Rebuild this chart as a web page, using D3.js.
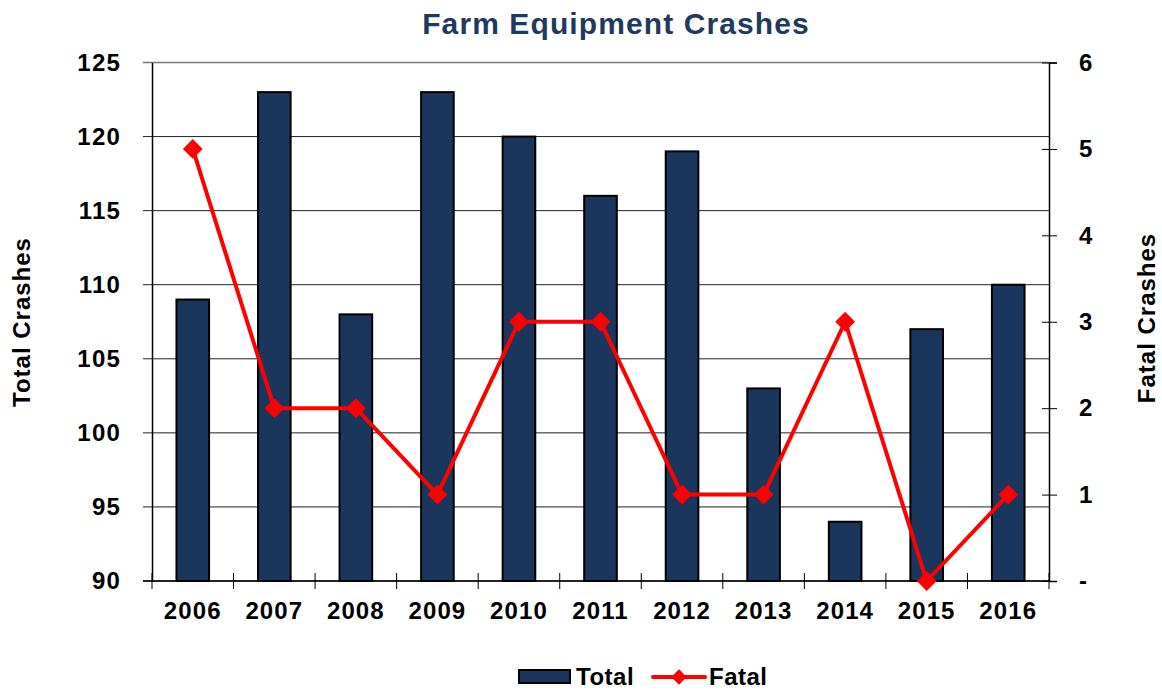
<!DOCTYPE html>
<html>
<head>
<meta charset="utf-8">
<script src="https://cdn.jsdelivr.net/npm/d3@7"></script>
<style>
  html, body { margin: 0; padding: 0; background: #fff; }
  svg { display: block; font-family: "Liberation Sans", Arial, sans-serif; }
</style>
</head>
<body>
<svg id="chart" width="1162" height="690"></svg>
<script>
// Yearly farm equipment crashes: total (bars, left axis) and fatal (line, right axis)
const years = ["2006", "2007", "2008", "2009", "2010", "2011", "2012", "2013", "2014", "2015", "2016"];
const totalCrashes = [109, 123, 108, 123, 120, 116, 119, 103, 94, 107, 110];
const fatalCrashes = [5, 2, 2, 1, 3, 3, 1, 1, 3, 0, 1];
const leftTicks = [90, 95, 100, 105, 110, 115, 120, 125];
const rightTicks = [0, 1, 2, 3, 4, 5, 6];

const barColor = "#1b365d";
const lineColor = "#ff0000";
const FONT = "Liberation Sans, Arial, sans-serif";

const svg = d3.select("#chart");
const plot = { left: 152, right: 1049, top: 62.5, bottom: 581 };

const x = d3.scaleBand().domain(years).range([plot.left, plot.right]).paddingInner(0.6).paddingOuter(0.3);
const xPos = d3.scaleBand().domain(years).range([plot.left, plot.right]);
const yLeft = d3.scaleLinear().domain([90, 125]).range([plot.bottom, plot.top]);
const yRight = d3.scaleLinear().domain([0, 6]).range([plot.bottom, plot.top]);

// Title
svg.append("text")
  .attr("x", 616).attr("y", 34)
  .attr("text-anchor", "middle")
  .attr("font-size", 30).attr("font-weight", "bold")
  .attr("letter-spacing", 1.1)
  .attr("fill", "#1f3a5f")
  .text("Farm Equipment Crashes");

// Horizontal gridlines on the left scale
svg.append("g")
  .selectAll("line")
  .data(leftTicks)
  .join("line")
  .attr("x1", plot.left - 9).attr("x2", plot.right)
  .attr("y1", d => yLeft(d)).attr("y2", d => yLeft(d))
  .attr("stroke", d => d === 125 ? "#777" : "#222")
  .attr("stroke-width", d => d === 125 ? 1.5 : 1);

// Left axis
const gL = svg.append("g").attr("transform", `translate(${plot.left},0)`)
  .call(d3.axisLeft(yLeft).tickValues(leftTicks).tickSize(0).tickPadding(31));
gL.select(".domain").attr("stroke", "#000").attr("stroke-width", 1.5);
gL.selectAll("text").attr("font-size", 24).attr("font-weight", "bold").attr("fill", "#000")
  .attr("letter-spacing", 1.2).attr("font-family", FONT);

// Right axis, with zero shown as a dash
const gR = svg.append("g").attr("transform", `translate(${plot.right},0)`)
  .call(d3.axisRight(yRight).tickValues(rightTicks).tickSize(8).tickPadding(22)
    .tickFormat(d => d === 0 ? "-" : d));
gR.select(".domain").attr("stroke", "#000").attr("stroke-width", 1.5);
gR.selectAll(".tick line").attr("x1", -7).attr("x2", 8).attr("stroke", "#000");
gR.selectAll("text").attr("font-size", 24).attr("font-weight", "bold").attr("fill", "#000")
  .attr("font-family", FONT);

// Bars
svg.append("g")
  .selectAll("rect")
  .data(years.map((y, i) => ({ year: y, value: totalCrashes[i] })))
  .join("rect")
  .attr("x", d => x(d.year))
  .attr("width", x.bandwidth())
  .attr("y", d => yLeft(d.value))
  .attr("height", d => yLeft(90) - yLeft(d.value))
  .attr("fill", barColor)
  .attr("stroke", "#000")
  .attr("stroke-width", 2);

// Bottom axis with category separators
svg.append("line")
  .attr("x1", plot.left - 9).attr("x2", plot.right)
  .attr("y1", plot.bottom).attr("y2", plot.bottom)
  .attr("stroke", "#000").attr("stroke-width", 1.5);
const sepPositions = years.map(y => xPos(y)).concat([plot.right]);
svg.append("g")
  .selectAll("line")
  .data(sepPositions)
  .join("line")
  .attr("x1", d => d).attr("x2", d => d)
  .attr("y1", plot.bottom - 8).attr("y2", plot.bottom + 8)
  .attr("stroke", "#000").attr("stroke-width", 1);
svg.append("g")
  .selectAll("text")
  .data(years)
  .join("text")
  .attr("x", d => xPos(d) + xPos.bandwidth() / 2)
  .attr("y", 619)
  .attr("text-anchor", "middle")
  .attr("font-size", 24).attr("font-weight", "bold")
  .attr("letter-spacing", 1.1)
  .text(d => d);

// Fatal line and diamond markers
const pts = years.map((y, i) => [xPos(y) + xPos.bandwidth() / 2, yRight(fatalCrashes[i])]);
svg.append("path")
  .attr("d", d3.line()(pts))
  .attr("fill", "none")
  .attr("stroke", lineColor)
  .attr("stroke-width", 4)
  .attr("stroke-linejoin", "round");
const diamond = d3.symbol().type(d3.symbolDiamond2).size(250);
svg.append("g")
  .selectAll("path")
  .data(pts)
  .join("path")
  .attr("transform", d => `translate(${d[0]},${d[1]})`)
  .attr("d", diamond)
  .attr("fill", lineColor);

// Axis titles
svg.append("text")
  .attr("transform", "translate(30,322) rotate(-90)")
  .attr("text-anchor", "middle")
  .attr("font-size", 24).attr("font-weight", "bold")
  .attr("letter-spacing", 1)
  .text("Total Crashes");
svg.append("text")
  .attr("transform", "translate(1155,318) rotate(-90)")
  .attr("text-anchor", "middle")
  .attr("font-size", 24).attr("font-weight", "bold")
  .attr("letter-spacing", 1)
  .text("Fatal Crashes");

// Legend
const lg = svg.append("g");
lg.append("rect")
  .attr("x", 519).attr("y", 670).attr("width", 51).attr("height", 13)
  .attr("fill", barColor).attr("stroke", "#000").attr("stroke-width", 2);
lg.append("text").attr("x", 576).attr("y", 685)
  .attr("font-size", 24).attr("font-weight", "bold").attr("letter-spacing", 0.5).text("Total");
lg.append("line").attr("x1", 653).attr("x2", 705).attr("y1", 677).attr("y2", 677)
  .attr("stroke", lineColor).attr("stroke-width", 4).attr("stroke-linecap", "round");
lg.append("path").attr("transform", "translate(679,677)")
  .attr("d", d3.symbol().type(d3.symbolDiamond2).size(150)).attr("fill", lineColor);
lg.append("text").attr("x", 709).attr("y", 685)
  .attr("font-size", 24).attr("font-weight", "bold").attr("letter-spacing", 0.5).text("Fatal");
</script>
</body>
</html>
